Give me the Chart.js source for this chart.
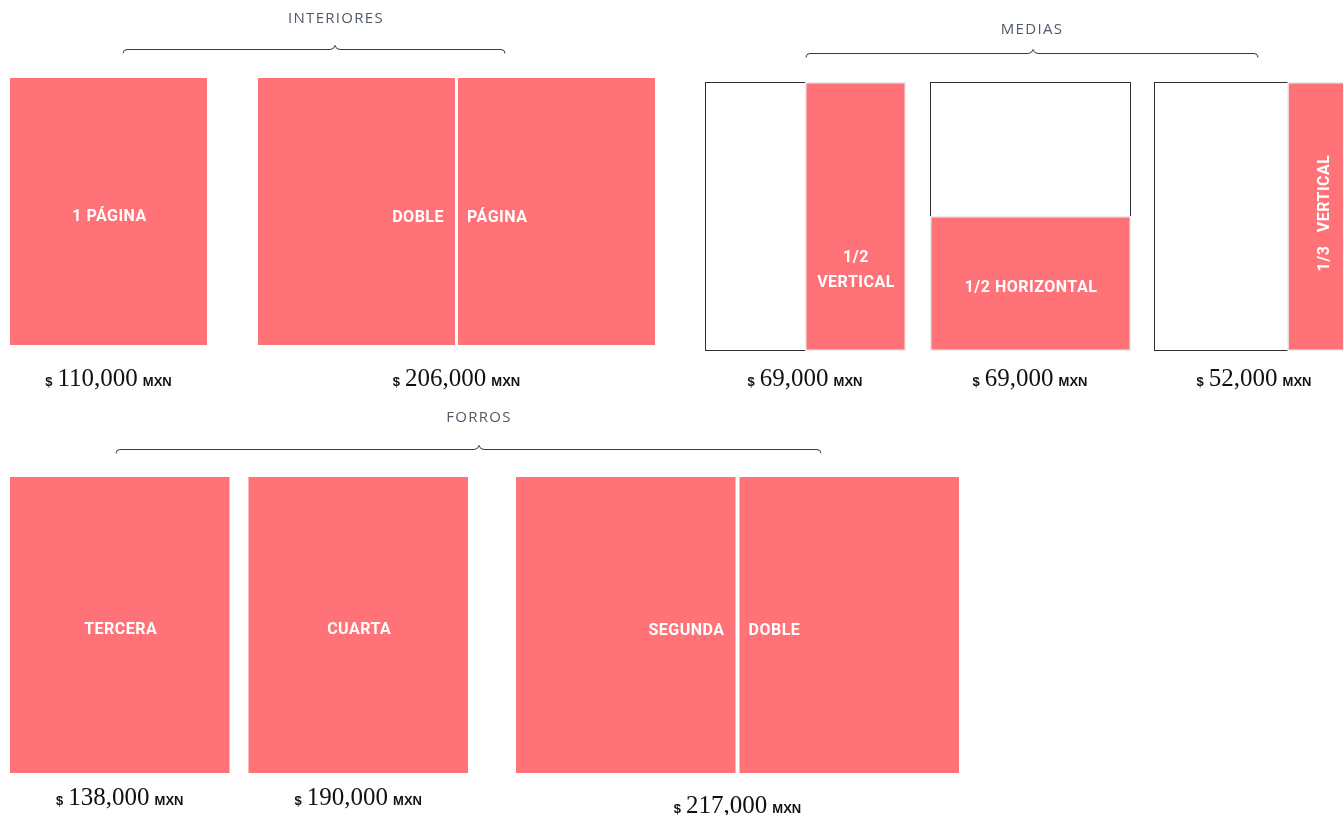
<!DOCTYPE html>
<html lang="es">
<head>
<meta charset="utf-8">
<title>Tarifas de publicidad</title>
<script src="https://cdn.jsdelivr.net/npm/chart.js@4.4.1/dist/chart.umd.min.js"></script>
<style>
  html, body { margin: 0; padding: 0; background: #fff; overflow: hidden; }
  canvas { display: block; }
</style>
</head>
<body>
<canvas id="rates" width="1343" height="815"></canvas>
<script>
// data
const sections = ['INTERIORES', 'MEDIAS', 'FORROS'];
const formats = ['1 PÁGINA', 'DOBLE PÁGINA', '1/2 VERTICAL', '1/2 HORIZONTAL', '1/3 VERTICAL', 'TERCERA', 'CUARTA', 'SEGUNDA DOBLE'];
const formatSection = [0, 0, 1, 1, 1, 2, 2, 2];
const pagesWide = [1, 2, 1, 1, 1, 1, 1, 2];
const adShare = [1, 1, 1 / 2, 1 / 2, 1 / 3, 1, 1, 1];
const adCut = ['full', 'full', 'vertical', 'horizontal', 'vertical', 'full', 'full', 'full'];
const prices = [110000, 206000, 69000, 69000, 52000, 138000, 190000, 217000];

// layout (canvas units, mapped through the chart scales)
const W = 1343, H = 815;
const PINK = '#ff7277';
const layout = [
  { x: 10, y: 78, pageW: 197, pageH: 267, spine: 3, gaps: [51], priceGap: 41, outline: false,
    title: { x: 336, y: 19 }, brace: { x0: 123, x1: 505, tip: 335, y: 49 } },
  { x: 705, y: 82, pageW: 200, pageH: 268, spine: 3, gaps: [25, 24], priceGap: 36, outline: true,
    title: { x: 1032, y: 30 }, brace: { x0: 806, x1: 1258, tip: 1033, y: 53 } },
  { x: 10, y: 477, pageW: 219.5, pageH: 296, spine: 4, gaps: [19, 48], priceGap: 32, outline: false,
    title: { x: 479, y: 418 }, brace: { x0: 116, x1: 821, tip: 479, y: 449 } }
];
const priceDrop = { 'SEGUNDA DOBLE': 8 };
const labelAt = { '1/2 VERTICAL': 0.7 };

// slots for every format, one after another inside its section
const slots = [];
const cursor = layout.map(s => s.x);
const count = layout.map(() => 0);
formats.forEach((name, i) => {
  const s = formatSection[i], L = layout[s];
  const k = count[s]++;
  if (k > 0) cursor[s] += L.gaps[k - 1];
  const pages = [];
  for (let p = 0; p < pagesWide[i]; p++) {
    const x0 = cursor[s] + p * (L.pageW + L.spine);
    pages.push({ x0, x1: x0 + L.pageW, y0: L.y, y1: L.y + L.pageH });
  }
  cursor[s] = pages[pages.length - 1].x1;
  slots.push(pages);
});

const labelFont = 'bold 16px Roboto, "Liberation Sans", sans-serif';

function drawBrace(ctx, px, py, b) {
  const x0 = px(b.x0), x1 = px(b.x1), t = px(b.tip), y = py(b.y) + 0.5;
  ctx.save();
  ctx.strokeStyle = '#3a3a3a';
  ctx.lineWidth = 1;
  ctx.beginPath();
  ctx.moveTo(x0, y + 4);
  ctx.quadraticCurveTo(x0, y, x0 + 4, y);
  ctx.lineTo(t - 5, y);
  ctx.quadraticCurveTo(t - 1, y, t, y - 4);
  ctx.quadraticCurveTo(t + 1, y, t + 5, y);
  ctx.lineTo(x1 - 4, y);
  ctx.quadraticCurveTo(x1, y, x1, y + 4);
  ctx.stroke();
  ctx.restore();
}

function drawPrice(ctx, cx, baseline, value) {
  const parts = [
    { t: '$', f: 'bold 13px "Liberation Sans", Arial, sans-serif', gap: 5 },
    { t: value.toLocaleString('en-US'), f: '25px "Liberation Serif", "DejaVu Serif", serif', gap: 5 },
    { t: 'MXN', f: 'bold 13px "Liberation Sans", Arial, sans-serif', gap: 0 }
  ];
  let total = 0;
  parts.forEach(p => { ctx.font = p.f; p.w = ctx.measureText(p.t).width; total += p.w + p.gap; });
  let x = cx - total / 2;
  ctx.fillStyle = '#111';
  ctx.textAlign = 'left';
  ctx.textBaseline = 'alphabetic';
  parts.forEach(p => { ctx.font = p.f; ctx.fillText(p.t, x, baseline); x += p.w + p.gap; });
}

const pagesPlugin = {
  id: 'pages',
  afterDraw(chart) {
    const { ctx, scales: { x, y } } = chart;
    const px = v => x.getPixelForValue(v);
    const py = v => y.getPixelForValue(v);
    ctx.save();

    // section titles and braces
    sections.forEach((name, s) => {
      const L = layout[s];
      ctx.font = '15px "Open Sans", "Liberation Sans", sans-serif';
      ctx.letterSpacing = '1.3px';
      ctx.fillStyle = '#505a66';
      ctx.textAlign = 'center';
      ctx.textBaseline = 'middle';
      ctx.fillText(name, px(L.title.x), py(L.title.y));
      ctx.letterSpacing = '0px';
      drawBrace(ctx, px, py, L.brace);
    });

    formats.forEach((name, i) => {
      const L = layout[formatSection[i]];
      const pages = slots[i];
      let ad = null;
      pages.forEach(pg => {
        const x0 = px(pg.x0), x1 = px(pg.x1), y0 = py(pg.y0), y1 = py(pg.y1);
        if (L.outline) {
          ctx.strokeStyle = '#2e2e2e';
          ctx.lineWidth = 1;
          ctx.strokeRect(Math.round(x0) + 0.5, Math.round(y0) + 0.5, x1 - x0, y1 - y0);
        }
        let r = { x0, x1, y0, y1 };
        if (adCut[i] === 'vertical') r.x0 = x1 - (x1 - x0) * adShare[i];
        if (adCut[i] === 'horizontal') r.y0 = y1 - (y1 - y0) * adShare[i];
        if (L.outline) {
          ctx.fillStyle = '#ececec';
          ctx.fillRect(r.x0, r.y0, r.x1 - r.x0 + 1, r.y1 - r.y0 + 1);
          ctx.fillStyle = PINK;
          ctx.fillRect(r.x0 + 1.5, r.y0 + 1.5, r.x1 - r.x0 - 2, r.y1 - r.y0 - 2);
        } else {
          ctx.fillStyle = PINK;
          ctx.fillRect(r.x0, r.y0, r.x1 - r.x0, r.y1 - r.y0);
        }
        if (!ad) ad = r;
      });

      // labels in the ad area
      ctx.font = labelFont;
      ctx.letterSpacing = '0.5px';
      ctx.fillStyle = '#fff';
      ctx.textBaseline = 'middle';
      const words = name.split(' ');
      if (pages.length === 2) {
        const ly = py(pages[0].y0 + (pages[0].y1 - pages[0].y0) / 2) + 6;
        ctx.textAlign = 'right';
        ctx.fillText(words[0], px(pages[0].x1) - 11, ly);
        ctx.textAlign = 'left';
        ctx.fillText(words.slice(1).join(' '), px(pages[1].x0) + 9, ly);
      } else {
        const cx = (ad.x0 + ad.x1) / 2 + 1;
        let cy = (ad.y0 + ad.y1) / 2 + 1;
        if (labelAt[name] !== undefined) cy = py(pages[0].y0 + (pages[0].y1 - pages[0].y0) * labelAt[name]);
        const aw = ad.x1 - ad.x0;
        ctx.textAlign = 'center';
        if (adShare[i] <= 1 / 3) {
          ctx.save();
          ctx.translate(cx + 3, py(pages[0].y0 + (pages[0].y1 - pages[0].y0) / 2) - 3);
          ctx.rotate(-Math.PI / 2);
          ctx.fillText(words.join('   '), 0, 0);
          ctx.restore();
        } else if (ctx.measureText(name).width > aw - 10) {
          ctx.fillText(words[0], cx, cy - 12);
          ctx.fillText(words.slice(1).join(' '), cx, cy + 13);
        } else {
          ctx.fillText(name, cx, cy + 4);
        }
      }
      ctx.letterSpacing = '0px';

      // price under the format
      const cx = (px(pages[0].x0) + px(pages[pages.length - 1].x1)) / 2;
      const base = py(pages[0].y1 + L.priceGap + (priceDrop[name] || 0));
      drawPrice(ctx, cx, base, prices[i]);
    });
    ctx.restore();
  }
};

new Chart(document.getElementById('rates'), {
  type: 'scatter',
  data: { datasets: [{ data: [], label: 'formatos' }] },
  options: {
    responsive: false,
    animation: false,
    events: [],
    layout: { padding: 0 },
    plugins: { legend: { display: false }, tooltip: { enabled: false } },
    scales: {
      x: { type: 'linear', min: 0, max: W, display: false },
      y: { type: 'linear', min: 0, max: H, reverse: true, display: false }
    }
  },
  plugins: [pagesPlugin]
});
</script>
</body>
</html>
